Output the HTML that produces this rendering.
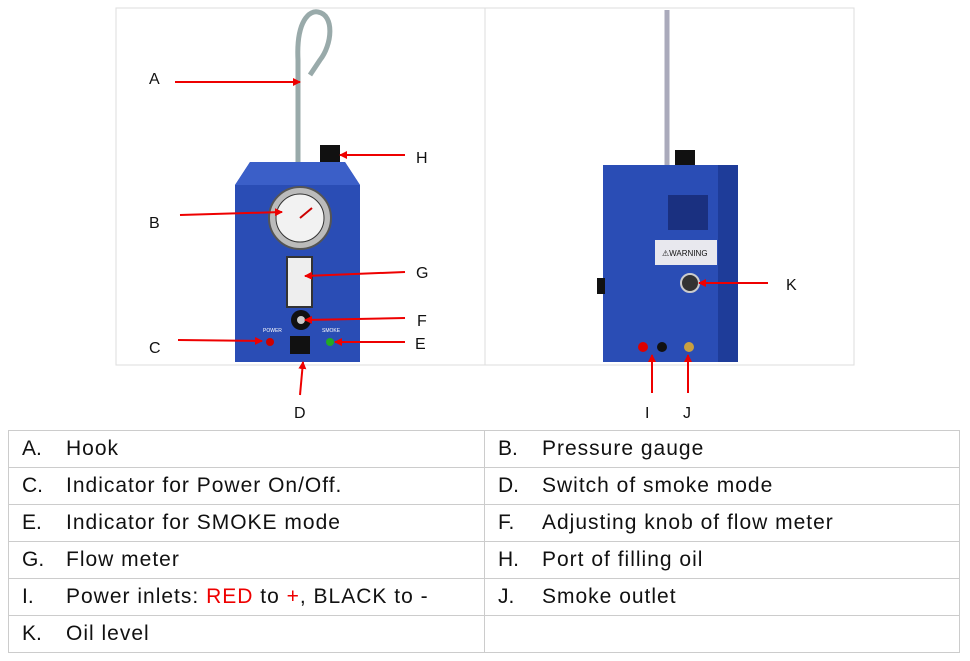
<!DOCTYPE html>
<html><head><meta charset="utf-8"><style>
body{margin:0;width:970px;height:661px;background:#fff;overflow:hidden;font-family:"Liberation Sans",sans-serif}
svg{position:absolute;left:0;top:0}
table{position:absolute;left:8px;top:430px;width:952px;border-collapse:collapse;font-size:21px;letter-spacing:1px;color:#111}
td{border:1px solid #ccc;height:36px;padding:0;vertical-align:middle}
td span.l{display:inline-block;width:44px;padding-left:13px;letter-spacing:0}
.r{color:#e00}
</style></head><body>
<svg width="970" height="430" viewBox="0 0 970 430">
<defs><marker id="ar" markerWidth="8" markerHeight="8" refX="7" refY="4" orient="auto" markerUnits="userSpaceOnUse"><path d="M0,0 L8,4 L0,8 z" fill="#e00"/></marker></defs>
<rect x="116" y="8" width="738" height="357" fill="#fff" stroke="#ddd"/>
<line x1="485" y1="8" x2="485" y2="365" stroke="#ddd"/>
<path d="M298,165 L298,60 C296,20 310,10 318,12 C335,15 332,45 320,60 L310,75" fill="none" stroke="#9aa" stroke-width="5"/>
<rect x="320" y="145" width="20" height="20" fill="#111"/>
<path d="M235,185 L250,162 L345,162 L360,185 L360,362 L235,362 z" fill="#2a4db5"/>
<path d="M235,185 L250,162 L345,162 L360,185 z" fill="#3b5fc8"/>
<circle cx="300" cy="218" r="31" fill="#bbb" stroke="#555" stroke-width="2"/>
<circle cx="300" cy="218" r="24" fill="#f2f2f2" stroke="#333"/>
<line x1="300" y1="218" x2="312" y2="208" stroke="#c00" stroke-width="2"/>
<rect x="287" y="257" width="25" height="50" fill="#eee" stroke="#333" stroke-width="2"/>
<circle cx="301" cy="320" r="10" fill="#111"/><circle cx="301" cy="320" r="4" fill="#ccc"/>
<circle cx="270" cy="342" r="4" fill="#c00"/><circle cx="330" cy="342" r="4" fill="#2a2"/>
<rect x="290" y="336" width="20" height="18" fill="#111"/>
<text x="263" y="332" font-size="5" fill="#fff">POWER</text><text x="322" y="332" font-size="5" fill="#fff">SMOKE</text>
<line x1="667" y1="10" x2="667" y2="165" stroke="#aab" stroke-width="5"/>
<rect x="675" y="150" width="20" height="18" fill="#111"/>
<rect x="603" y="165" width="135" height="197" fill="#2a4db5"/>
<rect x="718" y="165" width="20" height="197" fill="#1e3c99"/>
<rect x="668" y="195" width="40" height="35" fill="#1a3080"/>
<rect x="655" y="240" width="62" height="25" fill="#e8e8ee"/>
<text x="662" y="256" font-size="8" fill="#111">⚠WARNING</text>
<circle cx="690" cy="283" r="9" fill="#333" stroke="#ccc" stroke-width="2"/>
<rect x="597" y="278" width="8" height="16" fill="#111"/>
<circle cx="643" cy="347" r="5" fill="#d00"/><circle cx="662" cy="347" r="5" fill="#111"/><circle cx="689" cy="347" r="5" fill="#c9a040"/>
<g font-size="16" fill="#111">
<text x="149" y="84">A</text><text x="149" y="228">B</text><text x="149" y="353">C</text>
<text x="294" y="418">D</text><text x="415" y="349">E</text><text x="417" y="326">F</text>
<text x="416" y="278">G</text><text x="416" y="163">H</text><text x="645" y="418">I</text>
<text x="683" y="418">J</text><text x="786" y="290">K</text></g>
<g stroke="#e00" stroke-width="2" marker-end="url(#ar)">
<line x1="175" y1="82" x2="300" y2="82"/><line x1="180" y1="215" x2="282" y2="212"/>
<line x1="405" y1="155" x2="340" y2="155"/><line x1="405" y1="272" x2="305" y2="276"/>
<line x1="405" y1="318" x2="305" y2="320"/><line x1="178" y1="340" x2="262" y2="341"/>
<line x1="405" y1="342" x2="335" y2="342"/><line x1="300" y1="395" x2="303" y2="362"/>
<line x1="768" y1="283" x2="699" y2="283"/><line x1="652" y1="393" x2="652" y2="355"/>
<line x1="688" y1="393" x2="688" y2="355"/></g>
</svg>
<table>
<tr><td style="width:475px"><span class="l">A.</span>Hook</td><td><span class="l">B.</span>Pressure gauge</td></tr>
<tr><td><span class="l">C.</span>Indicator for Power On/Off.</td><td><span class="l">D.</span>Switch of smoke mode</td></tr>
<tr><td><span class="l">E.</span>Indicator for SMOKE mode</td><td><span class="l">F.</span>Adjusting knob of flow meter</td></tr>
<tr><td><span class="l">G.</span>Flow meter</td><td><span class="l">H.</span>Port of filling oil</td></tr>
<tr><td><span class="l">I.</span>Power inlets: <span class="r">RED</span> to <span class="r">+</span>, BLACK to -</td><td><span class="l">J.</span>Smoke outlet</td></tr>
<tr><td><span class="l">K.</span>Oil level</td><td></td></tr>
</table>
</body></html>
